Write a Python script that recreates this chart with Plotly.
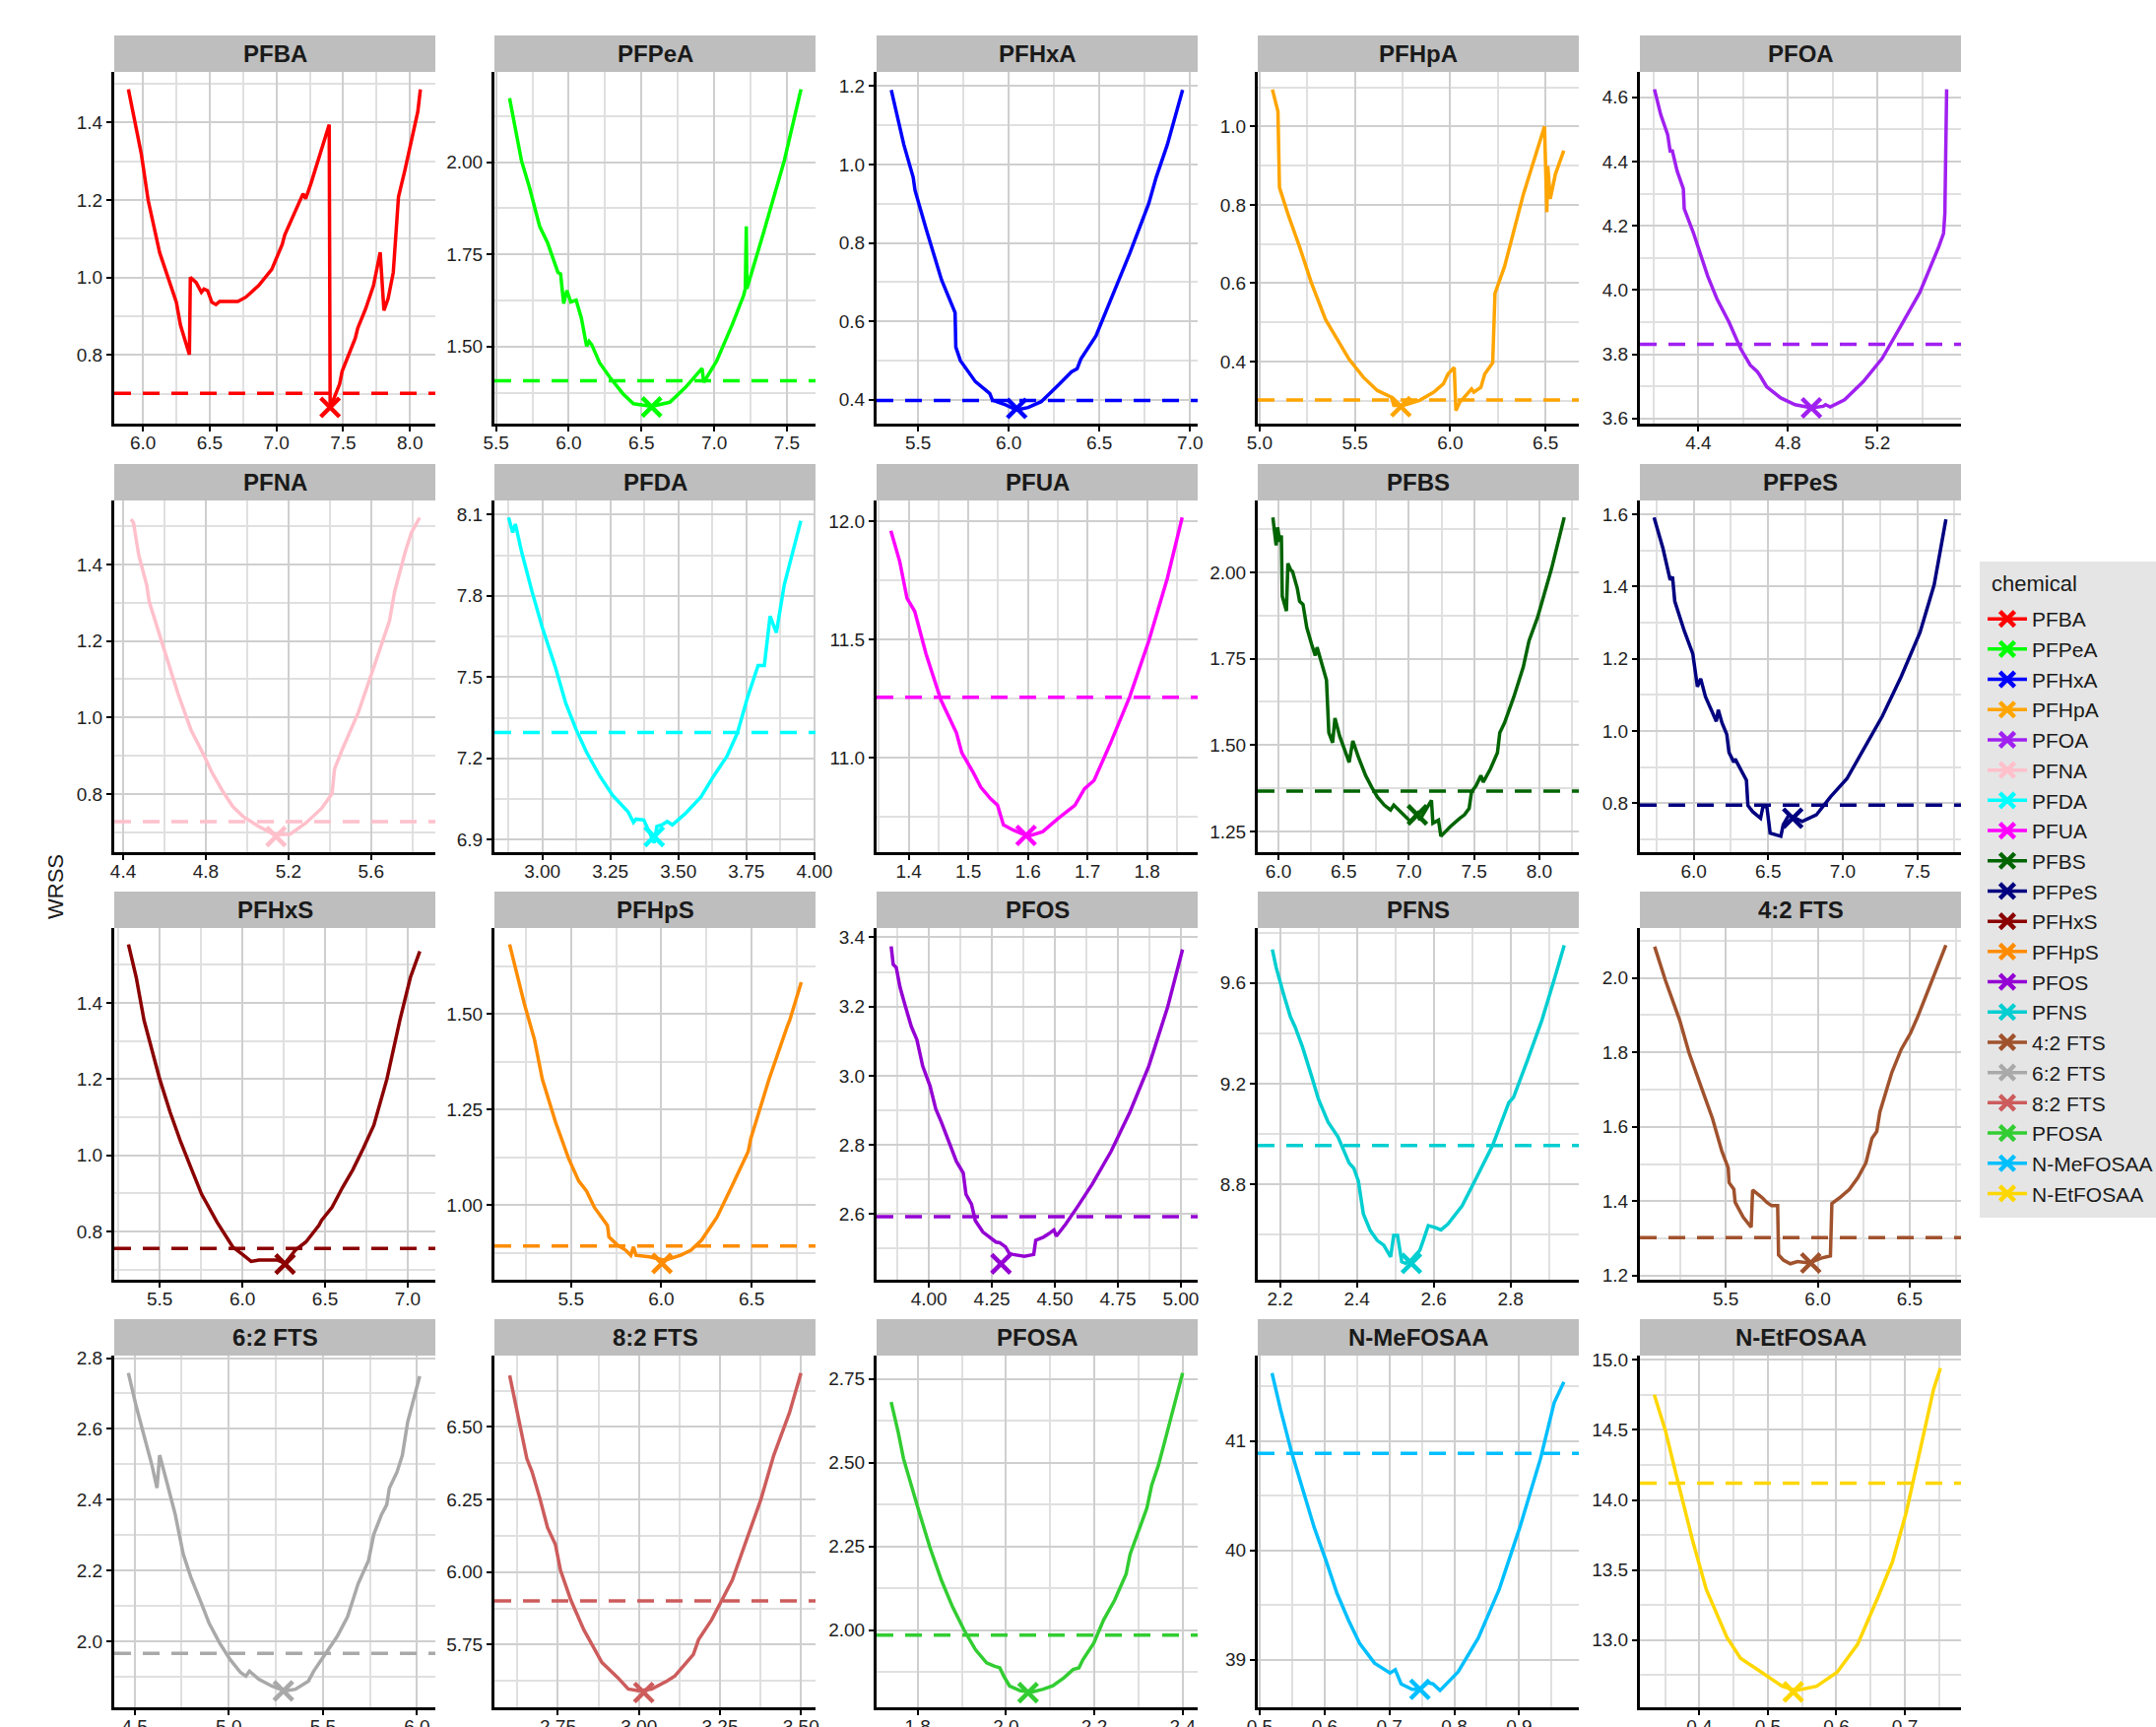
import plotly.graph_objects as go

chemicals = ["PFBA", "PFPeA", "PFHxA", "PFHpA", "PFOA", "PFNA", "PFDA", "PFUA", "PFBS", "PFPeS",
             "PFHxS", "PFHpS", "PFOS", "PFNS", "4:2 FTS", "6:2 FTS", "8:2 FTS", "PFOSA",
             "N-MeFOSAA", "N-EtFOSAA"]
colors = ["#FF0000", "#00FF00", "#0000FF", "#FFA500", "#A020F0", "#FFC0CB", "#00FFFF", "#FF00FF",
          "#006400", "#000080", "#8B0000", "#FF8C00", "#9400D3", "#00CED1", "#A0522D", "#A9A9A9",
          "#CD5C5C", "#32CD32", "#00BFFF", "#FFD700"]

# ---------------- profile curves (parameter value, WRSS) ----------------
pfba_x = [5.891, 5.930, 5.988, 6.039, 6.125, 6.25, 6.281, 6.348, 6.355, 6.398, 6.4375, 6.457, 6.484,
          6.516, 6.547, 6.574, 6.711, 6.77, 6.867, 6.965, 7.004, 7.043, 7.0625, 7.14, 7.199, 7.219,
          7.258, 7.395, 7.402, 7.434, 7.473, 7.492, 7.531, 7.59, 7.609, 7.668, 7.727, 7.777, 7.805,
          7.836, 7.875, 7.914, 7.961, 8.023, 8.059, 8.078]
pfba_y = [1.485, 1.419, 1.318, 1.199, 1.064, 0.936, 0.877, 0.801, 1.0, 0.987, 0.962, 0.970, 0.966,
          0.936, 0.930, 0.938, 0.938, 0.949, 0.979, 1.021, 1.055, 1.085, 1.110, 1.170, 1.216, 1.203,
          1.242, 1.394, 0.665, 0.691, 0.725, 0.758, 0.792, 0.843, 0.869, 0.919, 0.979, 1.065, 0.915,
          0.945, 1.013, 1.208, 1.275, 1.369, 1.428, 1.485]

pfpea_x = [5.593, 5.675, 5.729, 5.80, 5.854, 5.926, 5.944, 5.965, 5.987, 6.014, 6.051, 6.087, 6.123,
           6.140, 6.158, 6.212, 6.284, 6.373, 6.445, 6.57, 6.695, 6.802, 6.917, 6.928, 7.017, 7.124,
           7.203, 7.214, 7.221, 7.225, 7.339, 7.482, 7.597]
pfpea_y = [2.174, 2.004, 1.933, 1.826, 1.782, 1.701, 1.697, 1.617, 1.652, 1.621, 1.626, 1.577, 1.501,
           1.514, 1.505, 1.456, 1.416, 1.372, 1.345, 1.338, 1.349, 1.389, 1.441, 1.403, 1.461, 1.559,
           1.639, 1.657, 1.826, 1.657, 1.808, 2.004, 2.198]

pfhxa_x = [5.352, 5.421, 5.473, 5.483, 5.546, 5.629, 5.704, 5.708, 5.733, 5.816, 5.895, 5.910, 5.982,
           6.044, 6.107, 6.179, 6.273, 6.346, 6.377, 6.398, 6.481, 6.564, 6.668, 6.772, 6.813, 6.875,
           6.959]
pfhxa_y = [1.190, 1.051, 0.967, 0.934, 0.833, 0.706, 0.622, 0.534, 0.500, 0.446, 0.416, 0.399, 0.387,
           0.374, 0.380, 0.395, 0.437, 0.471, 0.479, 0.504, 0.563, 0.656, 0.774, 0.900, 0.967, 1.051,
           1.190]

pfhpa_x = [5.067, 5.096, 5.104, 5.148, 5.210, 5.272, 5.346, 5.469, 5.544, 5.618, 5.692, 5.704, 5.754,
           5.840, 5.914, 5.964, 5.988, 6.021, 6.030, 6.050, 6.112, 6.124, 6.161, 6.181, 6.223, 6.235,
           6.285, 6.329, 6.384, 6.495, 6.507, 6.512, 6.525, 6.552, 6.596]
pfhpa_y = [1.094, 1.038, 0.844, 0.777, 0.692, 0.600, 0.507, 0.406, 0.360, 0.326, 0.309, 0.288, 0.288,
           0.301, 0.322, 0.343, 0.368, 0.385, 0.275, 0.296, 0.330, 0.322, 0.334, 0.368, 0.397, 0.574,
           0.642, 0.726, 0.827, 1.0, 0.781, 0.899, 0.815, 0.878, 0.938]

pfoa_x = [4.204, 4.232, 4.263, 4.274, 4.284, 4.305, 4.333, 4.337, 4.379, 4.411, 4.442, 4.484, 4.537,
          4.589, 4.632, 4.663, 4.674, 4.705, 4.768, 4.832, 4.905, 4.958, 4.968, 4.989, 5.053, 5.137,
          5.221, 5.305, 5.389, 5.474, 5.495, 5.501, 5.509]
pfoa_y = [4.625, 4.546, 4.484, 4.433, 4.433, 4.371, 4.315, 4.253, 4.176, 4.105, 4.043, 3.971, 3.900,
          3.817, 3.766, 3.746, 3.735, 3.699, 3.664, 3.643, 3.633, 3.638, 3.643, 3.636, 3.658, 3.715,
          3.787, 3.889, 3.992, 4.135, 4.176, 4.238, 4.625]

pfna_x = [4.438, 4.45, 4.476, 4.514, 4.526, 4.564, 4.615, 4.665, 4.728, 4.792, 4.829, 4.880, 4.931,
          4.981, 5.057, 5.133, 5.208, 5.284, 5.360, 5.411, 5.423, 5.461, 5.537, 5.613, 5.689, 5.714,
          5.739, 5.765, 5.795, 5.835]
pfna_y = [1.518, 1.509, 1.423, 1.346, 1.303, 1.234, 1.149, 1.063, 0.968, 0.900, 0.857, 0.809, 0.767,
          0.741, 0.715, 0.694, 0.695, 0.724, 0.762, 0.801, 0.865, 0.917, 1.011, 1.131, 1.252, 1.329,
          1.380, 1.432, 1.483, 1.522]

pfda_x = [2.876, 2.891, 2.901, 2.924, 2.962, 3.0, 3.048, 3.086, 3.124, 3.163, 3.210, 3.258, 3.315,
          3.335, 3.344, 3.373, 3.411, 3.421, 3.440, 3.459, 3.478, 3.526, 3.583, 3.631, 3.679, 3.717,
          3.755, 3.793, 3.816, 3.837, 3.860, 3.889, 3.950]
pfda_y = [8.089, 8.034, 8.065, 7.962, 7.816, 7.683, 7.537, 7.404, 7.307, 7.222, 7.137, 7.064, 7.003,
          6.964, 6.976, 6.973, 6.888, 6.949, 6.955, 6.967, 6.955, 6.997, 7.058, 7.137, 7.209, 7.294,
          7.428, 7.543, 7.543, 7.725, 7.664, 7.840, 8.077]

pfua_x = [1.370, 1.385, 1.397, 1.410, 1.429, 1.454, 1.480, 1.489, 1.508, 1.521, 1.537, 1.549, 1.559,
          1.575, 1.6, 1.625, 1.651, 1.679, 1.695, 1.711, 1.739, 1.771, 1.803, 1.834, 1.859]
pfua_y = [11.961, 11.829, 11.676, 11.620, 11.440, 11.245, 11.106, 11.022, 10.939, 10.876, 10.828,
          10.800, 10.716, 10.695, 10.668, 10.688, 10.744, 10.800, 10.869, 10.904, 11.064, 11.259,
          11.495, 11.759, 12.017]

pfbs_x = [5.957, 5.982, 5.993, 6.011, 6.022, 6.029, 6.061, 6.072, 6.094, 6.108, 6.144, 6.162, 6.188,
          6.217, 6.253, 6.282, 6.296, 6.325, 6.368, 6.386, 6.415, 6.433, 6.469, 6.542, 6.570, 6.614,
          6.668, 6.715, 6.758, 6.812, 6.859, 6.884, 6.939, 7.011, 7.065, 7.083, 7.137, 7.173, 7.184,
          7.227, 7.245, 7.318, 7.390, 7.426, 7.462, 7.480, 7.516, 7.552, 7.570, 7.625, 7.679, 7.697,
          7.733, 7.805, 7.877, 7.921, 7.986, 8.094, 8.191]
pfbs_y = [2.159, 2.078, 2.130, 2.088, 2.107, 1.931, 1.888, 2.026, 2.007, 2.002, 1.954, 1.916, 1.907,
          1.840, 1.793, 1.759, 1.783, 1.745, 1.688, 1.536, 1.507, 1.578, 1.526, 1.450, 1.512, 1.464,
          1.412, 1.378, 1.350, 1.326, 1.312, 1.326, 1.307, 1.279, 1.302, 1.283, 1.317, 1.340, 1.274,
          1.283, 1.236, 1.264, 1.288, 1.298, 1.317, 1.364, 1.383, 1.412, 1.393, 1.431, 1.478, 1.536,
          1.564, 1.640, 1.726, 1.802, 1.869, 2.011, 2.159]

pfpes_x = [5.734, 5.794, 5.842, 5.858, 5.873, 5.937, 5.994, 6.025, 6.047, 6.079, 6.152, 6.165, 6.190,
           6.222, 6.237, 6.269, 6.278, 6.316, 6.354, 6.364, 6.396, 6.449, 6.465, 6.491, 6.513, 6.585,
           6.601, 6.639, 6.728, 6.823, 6.918, 7.028, 7.139, 7.266, 7.392, 7.519, 7.614, 7.693]
pfpes_y = [1.591, 1.505, 1.418, 1.427, 1.359, 1.277, 1.214, 1.123, 1.145, 1.095, 1.027, 1.059, 1.023,
           0.991, 0.941, 0.914, 0.923, 0.895, 0.864, 0.794, 0.777, 0.759, 0.791, 0.791, 0.718, 0.709,
           0.741, 0.768, 0.750, 0.768, 0.818, 0.868, 0.950, 1.041, 1.150, 1.273, 1.405, 1.586]

pfhxs_x = [5.311, 5.358, 5.405, 5.453, 5.5, 5.563, 5.626, 5.689, 5.753, 5.847, 5.942, 6.005, 6.053,
           6.1, 6.210, 6.258, 6.321, 6.384, 6.463, 6.479, 6.542, 6.605, 6.668, 6.731, 6.795, 6.874,
           6.953, 7.016, 7.073]
pfhxs_y = [1.554, 1.467, 1.355, 1.277, 1.2, 1.113, 1.036, 0.967, 0.898, 0.824, 0.759, 0.738, 0.721,
           0.725, 0.725, 0.716, 0.751, 0.772, 0.816, 0.829, 0.863, 0.915, 0.962, 1.018, 1.079, 1.2,
           1.356, 1.467, 1.536]

pfhps_x = [5.160, 5.197, 5.241, 5.298, 5.341, 5.414, 5.486, 5.543, 5.586, 5.630, 5.702, 5.710, 5.759,
           5.803, 5.831, 5.846, 5.860, 5.934, 6.020, 6.107, 6.164, 6.222, 6.308, 6.395, 6.481, 6.496,
           6.597, 6.697, 6.712, 6.775]
pfhps_y = [1.682, 1.614, 1.528, 1.433, 1.330, 1.218, 1.123, 1.063, 1.037, 0.994, 0.947, 0.917, 0.895,
           0.882, 0.869, 0.891, 0.869, 0.865, 0.856, 0.869, 0.882, 0.908, 0.968, 1.054, 1.140, 1.175,
           1.330, 1.467, 1.485, 1.583]

pfos_x = [3.850, 3.858, 3.870, 3.885, 3.907, 3.930, 3.952, 3.975, 4.004, 4.027, 4.049, 4.079, 4.109,
          4.136, 4.147, 4.169, 4.184, 4.214, 4.237, 4.266, 4.281, 4.304, 4.319, 4.334, 4.379, 4.416,
          4.424, 4.454, 4.476, 4.496, 4.506, 4.543, 4.588, 4.648, 4.723, 4.798, 4.873, 4.948, 5.007]
pfos_y = [3.374, 3.322, 3.313, 3.256, 3.199, 3.142, 3.104, 3.028, 2.971, 2.904, 2.866, 2.809, 2.752,
          2.719, 2.657, 2.628, 2.581, 2.548, 2.534, 2.519, 2.517, 2.505, 2.486, 2.483, 2.478, 2.483,
          2.524, 2.533, 2.543, 2.554, 2.536, 2.571, 2.619, 2.686, 2.781, 2.895, 3.028, 3.199, 3.365]

pfns_x = [2.180, 2.190, 2.209, 2.227, 2.239, 2.258, 2.282, 2.300, 2.325, 2.351, 2.380, 2.392, 2.404,
          2.417, 2.435, 2.453, 2.470, 2.488, 2.496, 2.506, 2.517, 2.527, 2.541, 2.564, 2.573, 2.586,
          2.603, 2.619, 2.637, 2.674, 2.711, 2.754, 2.796, 2.808, 2.845, 2.882, 2.913, 2.940]
pfns_y = [9.733, 9.661, 9.557, 9.466, 9.426, 9.348, 9.231, 9.139, 9.048, 8.989, 8.885, 8.865, 8.813,
          8.683, 8.617, 8.578, 8.559, 8.513, 8.598, 8.598, 8.493, 8.487, 8.500, 8.539, 8.578, 8.637,
          8.630, 8.620, 8.643, 8.715, 8.826, 8.957, 9.126, 9.146, 9.296, 9.453, 9.609, 9.750]

fts42_x = [5.113, 5.172, 5.249, 5.300, 5.364, 5.428, 5.479, 5.513, 5.518, 5.544, 5.551, 5.595, 5.638,
           5.646, 5.697, 5.723, 5.749, 5.782, 5.787, 5.813, 5.851, 5.890, 5.954, 6.018, 6.069, 6.077,
           6.121, 6.172, 6.218, 6.262, 6.295, 6.321, 6.338, 6.364, 6.403, 6.454, 6.505, 6.544, 6.621,
           6.697]
fts42_y = [2.084, 1.993, 1.887, 1.799, 1.710, 1.622, 1.534, 1.490, 1.450, 1.432, 1.397, 1.357, 1.330,
           1.430, 1.410, 1.397, 1.388, 1.388, 1.256, 1.242, 1.232, 1.238, 1.234, 1.247, 1.253, 1.394,
           1.410, 1.432, 1.463, 1.503, 1.569, 1.587, 1.640, 1.684, 1.746, 1.808, 1.852, 1.896, 1.993,
           2.088]

fts62_x = [4.467, 4.508, 4.550, 4.592, 4.619, 4.633, 4.675, 4.716, 4.758, 4.799, 4.855, 4.896, 4.952,
           5.007, 5.063, 5.091, 5.110, 5.160, 5.229, 5.298, 5.354, 5.423, 5.451, 5.506, 5.576, 5.631,
           5.659, 5.687, 5.742, 5.770, 5.811, 5.839, 5.853, 5.875, 5.894, 5.922, 5.950, 6.014]
fts62_y = [2.758, 2.665, 2.581, 2.498, 2.433, 2.526, 2.442, 2.358, 2.247, 2.181, 2.107, 2.051, 1.995,
           1.949, 1.912, 1.902, 1.916, 1.893, 1.874, 1.860, 1.865, 1.888, 1.916, 1.958, 2.014, 2.070,
           2.116, 2.163, 2.228, 2.302, 2.358, 2.386, 2.433, 2.456, 2.479, 2.526, 2.619, 2.749]

fts82_x = [2.601, 2.630, 2.654, 2.670, 2.694, 2.718, 2.742, 2.758, 2.790, 2.830, 2.846, 2.886, 2.934,
           2.967, 2.999, 3.039, 3.087, 3.111, 3.168, 3.184, 3.224, 3.256, 3.288, 3.320, 3.352, 3.376,
           3.416, 3.465, 3.500]
fts82_y = [6.678, 6.516, 6.391, 6.346, 6.255, 6.153, 6.096, 6.006, 5.903, 5.801, 5.767, 5.688, 5.637,
           5.597, 5.591, 5.597, 5.625, 5.642, 5.716, 5.767, 5.835, 5.903, 5.972, 6.073, 6.175, 6.249,
           6.402, 6.550, 6.686]

pfosa_x = [1.740, 1.756, 1.768, 1.785, 1.803, 1.828, 1.854, 1.879, 1.905, 1.931, 1.956, 1.973, 1.986,
           1.995, 2.008, 2.033, 2.059, 2.084, 2.106, 2.131, 2.152, 2.165, 2.174, 2.199, 2.221, 2.246,
           2.272, 2.281, 2.298, 2.319, 2.330, 2.345, 2.357, 2.374, 2.400]
pfosa_y = [2.681, 2.591, 2.512, 2.433, 2.354, 2.246, 2.148, 2.069, 2.000, 1.941, 1.902, 1.892, 1.887,
           1.862, 1.833, 1.818, 1.815, 1.823, 1.833, 1.857, 1.882, 1.887, 1.911, 1.961, 2.030, 2.089,
           2.167, 2.226, 2.285, 2.364, 2.433, 2.492, 2.551, 2.640, 2.768]

nmefosaa_x = [0.519, 0.532, 0.549, 0.567, 0.584, 0.602, 0.619, 0.637, 0.654, 0.677, 0.701, 0.709,
              0.718, 0.735, 0.747, 0.759, 0.767, 0.778, 0.806, 0.837, 0.869, 0.901, 0.933, 0.954, 0.969]
nmefosaa_y = [41.62, 41.29, 40.90, 40.54, 40.21, 39.91, 39.61, 39.36, 39.15, 38.97, 38.88, 38.91,
              38.78, 38.73, 38.73, 38.79, 38.78, 38.72, 38.89, 39.20, 39.64, 40.21, 40.84, 41.35, 41.54]

netfosaa_x = [0.334, 0.350, 0.370, 0.390, 0.410, 0.440, 0.460, 0.491, 0.521, 0.541, 0.571, 0.601,
              0.631, 0.662, 0.682, 0.702, 0.722, 0.742, 0.752]
netfosaa_y = [14.75, 14.50, 14.10, 13.71, 13.36, 13.02, 12.87, 12.77, 12.67, 12.64, 12.67, 12.77,
              12.97, 13.32, 13.56, 13.91, 14.35, 14.79, 14.94]

curve_x = [pfba_x, pfpea_x, pfhxa_x, pfhpa_x, pfoa_x, pfna_x, pfda_x, pfua_x, pfbs_x, pfpes_x,
           pfhxs_x, pfhps_x, pfos_x, pfns_x, fts42_x, fts62_x, fts82_x, pfosa_x, nmefosaa_x, netfosaa_x]
curve_y = [pfba_y, pfpea_y, pfhxa_y, pfhpa_y, pfoa_y, pfna_y, pfda_y, pfua_y, pfbs_y, pfpes_y,
           pfhxs_y, pfhps_y, pfos_y, pfns_y, fts42_y, fts62_y, fts82_y, pfosa_y, nmefosaa_y, netfosaa_y]

# best-fit (minimum) points and WRSS thresholds
best_x = [7.402, 6.57, 6.044, 5.741, 4.905, 5.140, 3.411, 1.597, 7.065, 6.665,
          6.258, 6.004, 4.286, 2.542, 5.962, 5.290, 3.015, 2.050, 0.747, 0.537]
best_y = [0.665, 1.336, 0.378, 0.285, 3.633, 0.689, 6.912, 10.672, 1.298, 0.759,
          0.714, 0.848, 2.456, 8.487, 1.234, 1.860, 5.585, 1.813, 38.73, 12.63]
threshold = [0.701, 1.407, 0.398, 0.302, 3.831, 0.728, 7.296, 11.256, 1.367, 0.795,
             0.755, 0.893, 2.592, 8.955, 1.302, 1.966, 5.901, 1.985, 40.886, 14.12]

# axis scales (per panel)
x_range = [[5.785, 8.19], [5.489, 7.697], [5.271, 7.042], [4.99, 6.675], [4.139, 5.573],
           [4.357, 5.911], [2.824, 4.004], [1.346, 1.885], [5.841, 8.303], [5.639, 7.794],
           [5.225, 7.167], [5.076, 6.854], [3.792, 5.067], [2.142, 2.978], [5.033, 6.779],
           [4.392, 6.097], [2.554, 3.545], [1.707, 2.434], [0.497, 0.992], [0.313, 0.782]]
y_range = [[0.623, 1.53], [1.291, 2.245], [0.339, 1.236], [0.2416, 1.139], [3.584, 4.679],
           [0.648, 1.567], [6.854, 8.152], [10.601, 12.089], [1.190, 2.208], [0.665, 1.638],
           [0.673, 1.597], [0.805, 1.725], [2.410, 3.427], [8.422, 9.818], [1.189, 2.134],
           [1.814, 2.807], [5.534, 6.746], [1.769, 2.820], [38.566, 41.78], [12.52, 15.03]]
x_dtick = [0.5, 0.5, 0.5, 0.5, 0.4, 0.4, 0.25, 0.1, 0.5, 0.5,
           0.5, 0.5, 0.25, 0.2, 0.5, 0.5, 0.25, 0.2, 0.1, 0.1]
y_dtick = [0.2, 0.25, 0.2, 0.2, 0.2, 0.2, 0.3, 0.5, 0.25, 0.2,
           0.2, 0.25, 0.2, 0.4, 0.2, 0.2, 0.25, 0.25, 1, 0.5]
x_fmt = [".1f", ".1f", ".1f", ".1f", ".1f", ".1f", ".2f", ".1f", ".1f", ".1f",
         ".1f", ".1f", ".2f", ".1f", ".1f", ".1f", ".2f", ".1f", ".1f", ".1f"]
y_fmt = [".1f", ".2f", ".1f", ".1f", ".1f", ".1f", ".1f", ".1f", ".2f", ".1f",
         ".1f", ".2f", ".1f", ".1f", ".1f", ".1f", ".2f", ".2f", "d", ".1f"]

# ---------------- layout geometry ----------------
W, H = 2189, 1753
col_left = [116, 502, 890, 1277, 1665]
col_w = 326
row_top = [73, 508, 942, 1376]
plot_h = 357
strip_h = 37
FONT = "Liberation Sans, Arial, sans-serif"

fig = go.Figure()
layout = dict(width=W, height=H, margin=dict(l=0, r=0, t=0, b=0, autoexpand=False),
              paper_bgcolor="white", plot_bgcolor="white", showlegend=True)
shapes = []
annotations = []

for i, chem in enumerate(chemicals):
    r, c = divmod(i, 5)
    n = i + 1
    xa = "xaxis" if n == 1 else f"xaxis{n}"
    ya = "yaxis" if n == 1 else f"yaxis{n}"
    xr = "x" if n == 1 else f"x{n}"
    yr = "y" if n == 1 else f"y{n}"
    x0 = col_left[c] / W
    x1 = (col_left[c] + col_w) / W
    y1 = 1 - row_top[r] / H
    y0 = 1 - (row_top[r] + plot_h) / H
    common = dict(showline=True, linecolor="black", linewidth=3, ticks="outside", ticklen=5,
                  tickwidth=2, tickcolor="black", showgrid=True, gridcolor="#cfcfcf", gridwidth=1.8,
                  zeroline=False, tick0=0, tickfont=dict(family=FONT, size=19, color="#1e1e1e"),
                  fixedrange=True, automargin=False)
    layout[xa] = dict(common, domain=[x0, x1], anchor=yr, range=x_range[i], dtick=x_dtick[i],
                      tickformat=x_fmt[i], ticklabelstandoff=-5,
                      minor=dict(dtick=x_dtick[i] / 2, tick0=0, showgrid=True,
                                 gridcolor="#e0e0e0", gridwidth=1.5))
    layout[ya] = dict(common, domain=[y0, y1], anchor=xr, range=y_range[i], dtick=y_dtick[i],
                      tickformat=y_fmt[i],
                      minor=dict(dtick=y_dtick[i] / 2, tick0=0, showgrid=True,
                                 gridcolor="#e0e0e0", gridwidth=1.5))
    # threshold line
    shapes.append(dict(type="line", xref=f"{xr} domain", yref=yr, x0=0, x1=1,
                       y0=threshold[i], y1=threshold[i],
                       line=dict(color=colors[i], width=3.5, dash="17px,12px"), layer="above"))
    # strip
    sy0 = y1
    sy1 = 1 - (row_top[r] - strip_h) / H
    shapes.append(dict(type="rect", xref="paper", yref="paper", x0=x0, x1=x1, y0=sy0, y1=sy1,
                       fillcolor="#BEBEBE", line=dict(width=0), layer="below"))
    annotations.append(dict(text=chem, xref="paper", yref="paper", x=(x0 + x1) / 2,
                            y=(sy0 + sy1) / 2, showarrow=False, xanchor="center", yanchor="middle",
                            font=dict(family=FONT, size=24, color="#1a1a1a", weight="bold")))
    fig.add_trace(go.Scatter(x=curve_x[i], y=curve_y[i], mode="lines", xaxis=xr, yaxis=yr,
                             line=dict(color=colors[i], width=3.5), showlegend=False,
                             hoverinfo="skip"))
    fig.add_trace(go.Scatter(x=[best_x[i]], y=[best_y[i]], mode="markers", xaxis=xr, yaxis=yr,
                             marker=dict(symbol="x-thin", size=19, color=colors[i],
                                         line=dict(color=colors[i], width=4.5)),
                             showlegend=False, cliponaxis=False))

# legend entries
for i, chem in enumerate(chemicals):
    fig.add_trace(go.Scatter(x=[None], y=[None], mode="lines+markers", name=chem,
                             legendgroup=chem, xaxis="x", yaxis="y",
                             line=dict(color=colors[i], width=3.5),
                             marker=dict(symbol="x-thin", size=15, color=colors[i],
                                         line=dict(color=colors[i], width=4.5))))

annotations.append(dict(text="WRSS", xref="paper", yref="paper", x=56 / W, y=1 - 900 / H,
                        showarrow=False, textangle=-90, xanchor="center", yanchor="middle",
                        font=dict(family=FONT, size=22, color="#1a1a1a")))
# legend title and background
annotations.append(dict(text="chemical", xref="paper", yref="paper", x=2020 / W, y=1 - 592 / H,
                        showarrow=False, xanchor="left", yanchor="middle",
                        font=dict(family=FONT, size=22, color="#1a1a1a")))
shapes.append(dict(type="rect", xref="paper", yref="paper", x0=2010 / W, x1=1.0,
                   y0=1 - 1236 / H, y1=1 - 570 / H, fillcolor="#E5E5E5", line=dict(width=0),
                   layer="below"))

layout["shapes"] = shapes
layout["annotations"] = annotations
layout["legend"] = dict(xref="container", yref="container", x=2013 / W, y=1 - 608 / H,
                        xanchor="left", yanchor="top",
                        bgcolor="rgba(0,0,0,0)", borderwidth=0,
                        font=dict(family=FONT, size=21, color="#1a1a1a"),
                        itemwidth=40, tracegroupgap=0.4)
fig.update_layout(**layout)
fig.write_html("out.html")
